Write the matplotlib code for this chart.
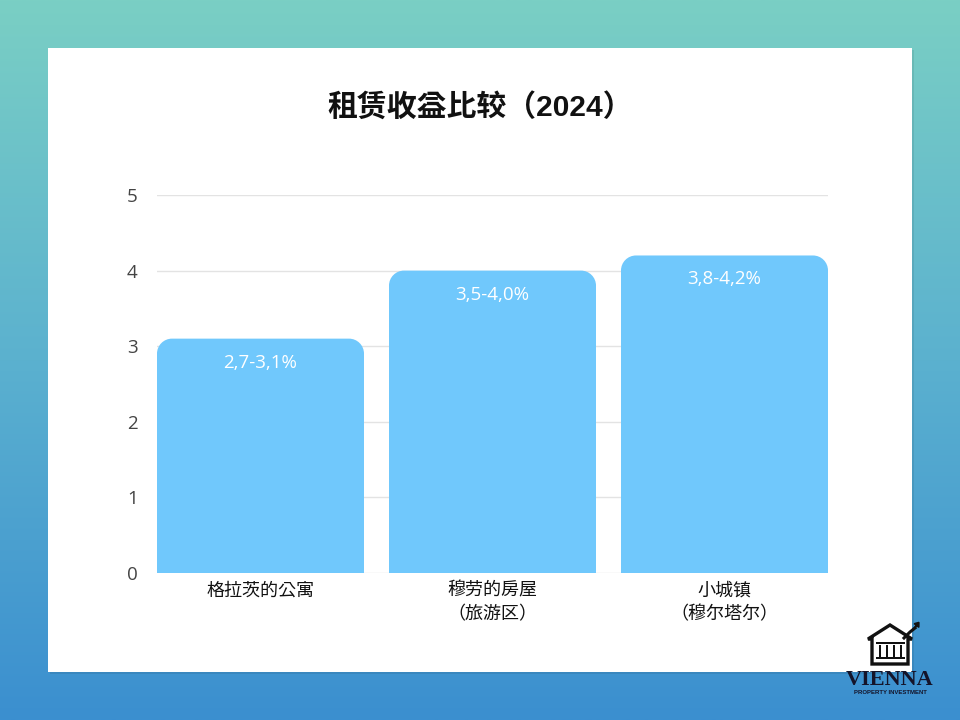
import matplotlib
matplotlib.use("Agg")
import matplotlib.pyplot as plt
import numpy as np
from matplotlib.path import Path
from matplotlib.patches import PathPatch, Rectangle, Polygon, FancyArrow
from matplotlib.colors import LinearSegmentedColormap

plt.rcParams['font.family'] = ['Liberation Sans', 'Noto Sans CJK KR', 'DejaVu Sans']

# Daten
kategooriad = ["格拉茨的公寓", "穆劳的房屋\n（旅游区）", "小城镇\n（穆尔塔尔）"]
vaartused = [3.1, 4.0, 4.2]
sildid = ["2,7-3,1%", "3,5-4,0%", "3,8-4,2%"]
y_ticks = [0, 1, 2, 3, 4, 5]
pealkiri = "租赁收益比较（2024）"

W, H = 960, 720
fig = plt.figure(figsize=(9.6, 7.2), dpi=100)

# Taust: gradient (ülalt türkiis, alt sinine)
bg = fig.add_axes([0, 0, 1, 1])
cmap = LinearSegmentedColormap.from_list("bg", ["#7ACFC4", "#5BB1CF", "#3B8FD0"])
grad = np.linspace(0, 1, 256).reshape(-1, 1)
bg.imshow(grad, aspect="auto", cmap=cmap, origin="upper", extent=[0, W, H, 0])
bg.set_xlim(0, W)
bg.set_ylim(H, 0)
bg.axis("off")

# Valge paneel (varjuga)
bg.add_patch(Rectangle((50, 50), 864, 624, facecolor="#000000", alpha=0.08, zorder=2))
bg.add_patch(Rectangle((48, 48), 864, 624, facecolor="white", zorder=3))

# Pealkiri
fig.text(0.5, 1 - 107 / H, pealkiri, ha="center", va="center", fontsize=21.5,
         fontweight="bold", color="#111111")

# Graafik
laius = 207 / 232
ax_left, ax_right = 157, 828
ax_bottom, ax_top = 573, 195
ax = fig.add_axes([ax_left / W, 1 - ax_bottom / H, (ax_right - ax_left) / W,
                   (ax_bottom - ax_top) / H])
ax.set_facecolor("none")
x = np.arange(len(kategooriad))
bars = ax.bar(x, vaartused, width=laius, color="#70C8FC", zorder=2)
ax.set_xlim(-laius / 2, len(kategooriad) - 1 + laius / 2)
ax.set_ylim(0, 5)

# Ümarad ülemised nurgad
px_x = (ax.get_xlim()[1] - ax.get_xlim()[0]) / (ax_right - ax_left)
px_y = 5 / (ax_bottom - ax_top)
r = 15
for b in bars:
    x0, w, h = b.get_x(), b.get_width(), b.get_height()
    rx, ry = r * px_x, r * px_y
    k = 0.5523
    verts = [(x0, 0), (x0, h - ry),
             (x0, h - ry + k * ry), (x0 + rx - k * rx, h), (x0 + rx, h),
             (x0 + w - rx, h),
             (x0 + w - rx + k * rx, h), (x0 + w, h - ry + k * ry), (x0 + w, h - ry),
             (x0 + w, 0), (x0, 0)]
    codes = [Path.MOVETO, Path.LINETO,
             Path.CURVE4, Path.CURVE4, Path.CURVE4,
             Path.LINETO,
             Path.CURVE4, Path.CURVE4, Path.CURVE4,
             Path.LINETO, Path.CLOSEPOLY]
    b.set_visible(False)
    ax.add_patch(PathPatch(Path(verts, codes), facecolor="#70C8FC", edgecolor="none", zorder=2))

for xi, v, s in zip(x, vaartused, sildid):
    ax.text(xi, v - 24 * px_y, s, ha="center", va="center", color="white",
            fontsize=13.5, family=["Open Sans", "DejaVu Sans"])

ax.set_yticks(y_ticks)
ax.set_yticklabels([str(t) for t in y_ticks], family=["Open Sans", "DejaVu Sans"],
                   fontsize=13.5, color="#444444")
ax.set_xticks(x)
ax.set_xticklabels(kategooriad, fontsize=13, color="#111111", linespacing=1.5)
ax.tick_params(axis="both", length=0)
ax.tick_params(axis="y", pad=14)
ax.tick_params(axis="x", pad=7)
ax.grid(axis="y", color="#e3e3e3", linewidth=1, zorder=0)
ax.set_axisbelow(True)
for s in ax.spines.values():
    s.set_visible(False)

# Logo
lc = "#111111"
bg.add_patch(Polygon([(872, 664), (872, 639), (868, 639), (890, 625), (912, 639),
                      (908, 639), (908, 664)], closed=True, facecolor="white",
                     edgecolor=lc, linewidth=2.4, zorder=6))
for cx in [880, 887, 894, 901]:
    bg.add_patch(Rectangle((cx - 1.4, 645), 2.8, 12, facecolor=lc, zorder=7))
bg.add_patch(Rectangle((876, 642), 29, 2.2, facecolor=lc, zorder=7))
bg.add_patch(Rectangle((876, 657), 29, 2.2, facecolor=lc, zorder=7))
bg.plot([904, 910, 915], [638, 632, 628], color=lc, linewidth=2.2, zorder=7)
bg.add_patch(FancyArrow(913, 630, 3.5, -4.5, width=0.6, head_width=6, head_length=4,
                        color=lc, zorder=7))
bg.text(890, 680, "VIENNA", ha="center", va="center", fontsize=16, color="#14142a",
        family="Liberation Serif", fontweight="bold", zorder=6)
bg.text(890, 693, "PROPERTY INVESTMENT", ha="center", va="center", fontsize=4.3,
        color="#14142a", fontweight="bold", zorder=6)

fig.savefig("out.png", dpi=100)
